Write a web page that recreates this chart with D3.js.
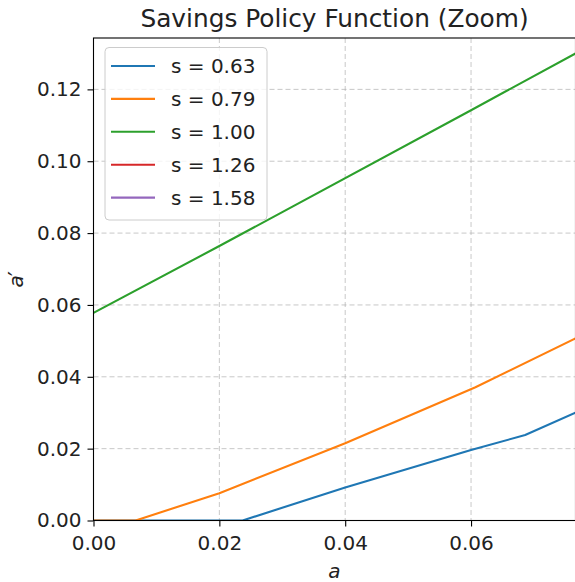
<html>
    <head>
        <title>Savings Policy Function (Zoom)</title>
        <script src="https://d3js.org/d3.v7.min.js" charset="utf-8"></script>
        <style>
        body {
            margin: 0;
            background: white;
            font-family: "DejaVu Sans", sans-serif;
        }
        .grid line {
            stroke: #b0b0b0;
            stroke-opacity: 0.7;
            stroke-dasharray: 5,3;
            stroke-width: 1;
        }
        .tick text {
            font-size: 20px;
            fill: #222;
        }
        </style>
    </head>
    <body>
        <script>
            //chart data
            var seriesNames = ["s = 0.63", "s = 0.79", "s = 1.00", "s = 1.26", "s = 1.58"];
            var seriesColors = ["#1f77b4", "#ff7f0e", "#2ca02c", "#d62728", "#9467bd"];
            // asset grid points and next-period assets, one list per series
            var blueA = [0, 0.0237, 0.04, 0.06, 0.0686, 0.0766];
            var blueV = [0, 0, 0.0092, 0.0196, 0.0238, 0.0300];
            var orangeA = [0, 0.0067, 0.02, 0.04, 0.0607, 0.0766];
            var orangeV = [0, 0, 0.0076, 0.0215, 0.0371, 0.0507];
            var greenA = [0, 0.02, 0.06, 0.0766];
            var greenV = [0.0578, 0.0764, 0.1142, 0.1300];
            // s = 1.26 and s = 1.58 lie outside the zoom window, nothing visible
            var redA = [], redV = [];
            var purpleA = [], purpleV = [];
            var xTicks = [0, 0.02, 0.04, 0.06];
            var yTicks = [0, 0.02, 0.04, 0.06, 0.08, 0.10, 0.12];
            var xMax = 0.0766, yMax = 0.1343;

            var width = 575, height = 582;
            // plot box (named so they don't clash with window.top)
            var pLeft = 93.5, pRight = 575.5, pTop = 38, pBottom = 520.5;

            var svg = d3.select("body").append("svg")
                .attr("width", width)
                .attr("height", height);

            var x = d3.scaleLinear().domain([0, xMax]).range([pLeft, pRight]);
            var y = d3.scaleLinear().domain([0, yMax]).range([pBottom, pTop]);

            //grid lines
            var grid = svg.append("g").attr("class", "grid");
            grid.selectAll("line.v").data(xTicks).enter().append("line")
                .attr("class", "v")
                .attr("x1", d => x(d)).attr("x2", d => x(d))
                .attr("y1", pTop).attr("y2", pBottom);
            grid.selectAll("line.h").data(yTicks).enter().append("line")
                .attr("class", "h")
                .attr("x1", pLeft).attr("x2", pRight)
                .attr("y1", d => y(d)).attr("y2", d => y(d));

            //clip lines to plot area
            svg.append("clipPath").attr("id", "plotclip")
                .append("rect")
                .attr("x", pLeft).attr("y", pTop)
                .attr("width", pRight - pLeft).attr("height", pBottom - pTop);

            var series = [
                {a: blueA, v: blueV},
                {a: orangeA, v: orangeV},
                {a: greenA, v: greenV},
                {a: redA, v: redV},
                {a: purpleA, v: purpleV}
            ];
            var line = d3.line().x(d => x(d[0])).y(d => y(d[1]));
            var lines = svg.append("g").attr("clip-path", "url(#plotclip)");
            series.forEach(function(s, i) {
                if (s.a.length == 0) return;
                lines.append("path")
                    .attr("d", line(d3.zip(s.a, s.v)))
                    .attr("fill", "none")
                    .attr("stroke", seriesColors[i])
                    .attr("stroke-width", 2.1)
                    .attr("stroke-linejoin", "round");
            });

            //axes
            var xAxis = d3.axisBottom(x).tickValues(xTicks).tickFormat(d3.format(".2f"))
                .tickSize(6).tickPadding(6).tickSizeOuter(0);
            var yAxis = d3.axisLeft(y).tickValues(yTicks).tickFormat(d3.format(".2f"))
                .tickSize(6).tickPadding(6).tickSizeOuter(0);
            var gx = svg.append("g").attr("transform", "translate(0," + pBottom + ")").call(xAxis);
            var gy = svg.append("g").attr("transform", "translate(" + pLeft + ",0)").call(yAxis);
            [gx, gy].forEach(function(g) {
                g.select(".domain").remove();
                g.selectAll(".tick line").attr("stroke", "#000").attr("stroke-width", 1.1);
                g.selectAll(".tick text").attr("font-family", "DejaVu Sans");
            });
            gx.selectAll(".tick text").attr("dy", "0.85em");

            //spines
            svg.append("rect")
                .attr("x", pLeft).attr("y", pTop)
                .attr("width", pRight - pLeft).attr("height", pBottom - pTop)
                .attr("fill", "none")
                .attr("stroke", "#000")
                .attr("stroke-width", 1.1);

            //legend
            var legend = svg.append("g");
            legend.append("rect")
                .attr("x", 105).attr("y", 47.5)
                .attr("width", 162).attr("height", 172.5)
                .attr("rx", 4)
                .attr("fill", "white").attr("fill-opacity", 0.8)
                .attr("stroke", "#cccccc");
            seriesNames.forEach(function(name, i) {
                var cy = 66 + i * 32.9;
                legend.append("line")
                    .attr("x1", 111).attr("x2", 155)
                    .attr("y1", cy).attr("y2", cy)
                    .attr("stroke", seriesColors[i])
                    .attr("stroke-width", 2.1);
                legend.append("text")
                    .attr("x", 171).attr("y", cy + 7.3)
                    .attr("font-size", 20)
                    .attr("fill", "#222")
                    .text(name);
            });

            //title and labels
            svg.append("text")
                .attr("x", (pLeft + pRight) / 2).attr("y", 27)
                .attr("text-anchor", "middle")
                .attr("font-size", 24.8)
                .attr("fill", "#222")
                .text("Savings Policy Function (Zoom)");
            svg.append("text")
                .attr("x", (pLeft + pRight) / 2).attr("y", 578)
                .attr("text-anchor", "middle")
                .attr("font-size", 20)
                .attr("font-style", "italic")
                .attr("fill", "#222")
                .text("a");
            var ylab = svg.append("text")
                .attr("transform", "translate(23," + ((pTop + pBottom) / 2) + ") rotate(-90)")
                .attr("text-anchor", "middle")
                .attr("font-size", 20)
                .attr("font-style", "italic")
                .attr("fill", "#222");
            ylab.append("tspan").text("a");
            ylab.append("tspan")
                .attr("font-size", 23)
                .attr("font-style", "normal")
                .attr("dx", -1)
                .attr("dy", 2)
                .text("′");
        </script>
    </body>
</html>
